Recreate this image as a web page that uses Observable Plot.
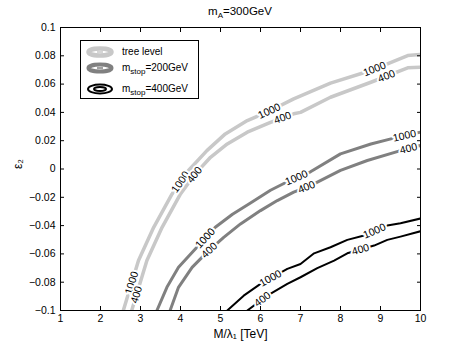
<!DOCTYPE html>
<html><head><meta charset="utf-8">
<script src="https://cdn.jsdelivr.net/npm/d3@7"></script>
<script src="https://cdn.jsdelivr.net/npm/@observablehq/plot@0.6"></script>
<style>
body{margin:0;background:#fff;font-family:"Liberation Sans",Arial,sans-serif;color:#000;}
#wrap{position:relative;width:463px;height:349px;overflow:hidden;}
#title{position:absolute;left:140px;width:200px;top:4px;text-align:center;font-size:11.5px;line-height:14px;}
#title sub, #legend sub{font-size:8px;vertical-align:-3px;line-height:0;}
#legend{position:absolute;left:80px;top:40px;width:119px;height:59px;border:1px solid #000;background:#fff;box-sizing:border-box;}
.row{position:absolute;left:0;height:16px;width:117px;}
.row svg{position:absolute;left:4px;top:1px;}
.row span{position:absolute;left:41px;top:1px;font-size:10px;line-height:13px;white-space:nowrap;}
</style></head><body>
<div id="wrap"><div id="chart"></div><div id="title">m<sub>A</sub>=300GeV</div><div id="legend"></div></div>
<script>
// ---- data ----
const xTicks = [1,2,3,4,5,6,7,8,9,10];
const yTicks = [-0.1,-0.08,-0.06,-0.04,-0.02,0,0.02,0.04,0.06,0.08,0.1];
const xLabel = "M/λ₁ [TeV]";
const yLabel = "ε₂";
const seriesNames = ["tree level","m<sub>stop</sub>=200GeV","m<sub>stop</sub>=400GeV"];
const levels = [1000,400];

const tree1000 = [[2.57,-0.1],[2.95,-0.0647],[3.33,-0.0412],[3.79,-0.0176],[4.2,-0.0011],[4.66,0.013],[5.12,0.0248],[5.67,0.0342],[6.25,0.0413],[6.83,0.0496],[7.75,0.0607],[8.76,0.0696],[9.68,0.0802],[10,0.081]];
const tree400  = [[2.78,-0.1],[3.16,-0.0647],[3.54,-0.0412],[4.0,-0.0176],[4.37,-0.0034],[4.75,0.0083],[5.17,0.0177],[5.67,0.026],[6.25,0.033],[6.83,0.039],[7.0,0.040],[7.75,0.0507],[8.76,0.0613],[9.68,0.0715],[10,0.072]];
const stop200_1000 = [[3.41,-0.1],[3.66,-0.0836],[3.95,-0.0695],[4.41,-0.0553],[4.87,-0.0412],[5.3,-0.032],[5.75,-0.024],[6.25,-0.015],[6.67,-0.009],[7.25,-0.002],[8.0,0.0107],[8.76,0.0177],[9.26,0.0213],[10,0.026]];
const stop200_400  = [[3.74,-0.1],[3.95,-0.0836],[4.29,-0.0695],[4.66,-0.0589],[5.08,-0.0483],[5.5,-0.0388],[6.0,-0.0294],[6.42,-0.0223],[6.83,-0.0164],[7.25,-0.0117],[8.0,-0.001],[8.67,0.006],[9.5,0.013],[10,0.0166]];
const stop400_1000 = [[5.17,-0.1],[5.58,-0.0895],[6.0,-0.0812],[6.67,-0.0706],[7.0,-0.0671],[7.34,-0.0596],[7.75,-0.0553],[8.17,-0.0501],[8.59,-0.047],[9.17,-0.040],[9.5,-0.0384],[10,-0.035]];
const stop400_400  = [[5.67,-0.1],[6.17,-0.0895],[6.67,-0.0812],[7.0,-0.0765],[7.42,-0.07],[7.84,-0.0647],[8.17,-0.0596],[8.84,-0.0541],[9.17,-0.0501],[9.5,-0.0478],[10,-0.044]];

// x positions of the inline contour labels
const tree1000Labels = [2.78,4.0,6.22,8.85];
const tree400Labels = [2.9,4.35,6.55,9.15];
const stop200_1000Labels = [4.62,6.9,9.6];
const stop200_400Labels = [4.72,7.15,9.7];
const stop400_1000Labels = [6.25,8.85];
const stop400_400Labels = [6.05,8.5];

// ---- styles ----
const seriesStyle = [
  {stroke:"#c8c8c8", width:3.5},
  {stroke:"#808080", width:3},
  {stroke:"#000000", width:2}
];
const curves = [
  {s:0, level:levels[0], pts:tree1000, labels:tree1000Labels},
  {s:0, level:levels[1], pts:tree400, labels:tree400Labels},
  {s:1, level:levels[0], pts:stop200_1000, labels:stop200_1000Labels},
  {s:1, level:levels[1], pts:stop200_400, labels:stop200_400Labels},
  {s:2, level:levels[0], pts:stop400_1000, labels:stop400_1000Labels},
  {s:2, level:levels[1], pts:stop400_400, labels:stop400_400Labels}
];

const W=463, H=349, mL=60, mR=43, mT=27, mB=39;
const kx=(W-mL-mR)/(xTicks[xTicks.length-1]-xTicks[0]);
const ky=(H-mT-mB)/(yTicks[yTicks.length-1]-yTicks[0]);

function yAt(pts,x){
  if(x<=pts[0][0]) return pts[0][1];
  for(let i=0;i<pts.length-1;i++){
    const [x0,y0]=pts[i],[x1,y1]=pts[i+1];
    if(x>=x0&&x<=x1){const t=(x-x0)/(x1-x0);return y0+t*(y1-y0);}
  }
  return pts[pts.length-1][1];
}
const labelRows=[];
for(const c of curves){
  for(const lx of c.labels){
    const y=yAt(c.pts,lx);
    const h=0.12;
    const ya=yAt(c.pts,lx-h), yb=yAt(c.pts,lx+h);
    const a=-Math.atan2((yb-ya)*ky,(2*h)*kx)*180/Math.PI;
    labelRows.push({x:lx,y,a,t:String(c.level)});
  }
}

const lineMarks = curves.map(c=>Plot.line(c.pts,{x:d=>d[0],y:d=>d[1],stroke:seriesStyle[c.s].stroke,strokeWidth:seriesStyle[c.s].width,strokeLinejoin:"round",clip:true}));
const noText = () => "";

const chart = Plot.plot({
  width:W, height:H, marginLeft:mL, marginRight:mR, marginTop:mT, marginBottom:mB,
  style:{fontFamily:"Liberation Sans, Arial, sans-serif", fontSize:"10px", color:"#000", background:"#fff"},
  x:{domain:[1,10]},
  y:{domain:[-0.1,0.1]},
  marks:[
    ...lineMarks,
    Plot.text(labelRows,{x:"x",y:"y",text:"t",rotate:"a",fill:"#000",stroke:"#fff",strokeWidth:4,fontSize:10.5}),
    Plot.frame({stroke:"#000",strokeWidth:1}),
    Plot.axisX(xTicks,{anchor:"bottom",tickSize:-4,tickFormat:noText,label:null}),
    Plot.axisX(xTicks,{anchor:"top",tickSize:-4,tickFormat:noText,label:null}),
    Plot.axisY(yTicks,{anchor:"left",tickSize:-4,tickFormat:noText,label:null}),
    Plot.axisY(yTicks,{anchor:"right",tickSize:-4,tickFormat:noText,label:null}),
    Plot.axisX(xTicks,{anchor:"bottom",tickSize:0,tickPadding:4,tickFormat:d3.format("~g"),label:null,fontSize:10.5}),
    Plot.axisY(yTicks,{anchor:"left",tickSize:0,tickPadding:5,tickFormat:d3.format("~g"),label:null,fontSize:10.5}),
    Plot.text([xLabel],{text:d=>d,frameAnchor:"bottom",dy:27,fontSize:12,fill:"#000"}),
    Plot.text([yLabel],{text:d=>d,frameAnchor:"left",dx:-42,rotate:-90,fontSize:12,fill:"#000"})
  ]
});
document.getElementById("chart").appendChild(chart);

// legend
const legendY=[11,27,48];
const legend=document.getElementById("legend");
seriesNames.forEach((name,i)=>{
  const st=seriesStyle[i];
  const row=document.createElement("div");
  row.className="row";
  row.style.top=(legendY[i]-8)+"px";
  const inner = i===2
    ? `<ellipse cx="15" cy="7" rx="12" ry="4.5" fill="none" stroke="${st.stroke}" stroke-width="${st.width}"/><ellipse cx="15" cy="7" rx="6" ry="2" fill="none" stroke="${st.stroke}" stroke-width="${st.width}"/>`
    : `<ellipse cx="15" cy="7" rx="11.5" ry="3.5" fill="none" stroke="${st.stroke}" stroke-width="${st.width+1}"/><line x1="12" y1="7" x2="18" y2="7" stroke="${st.stroke}" stroke-width="1.5"/>`;
  row.innerHTML=`<svg width="30" height="14">${inner}</svg><span>${name}</span>`;
  legend.appendChild(row);
});
</script>
</body></html>
